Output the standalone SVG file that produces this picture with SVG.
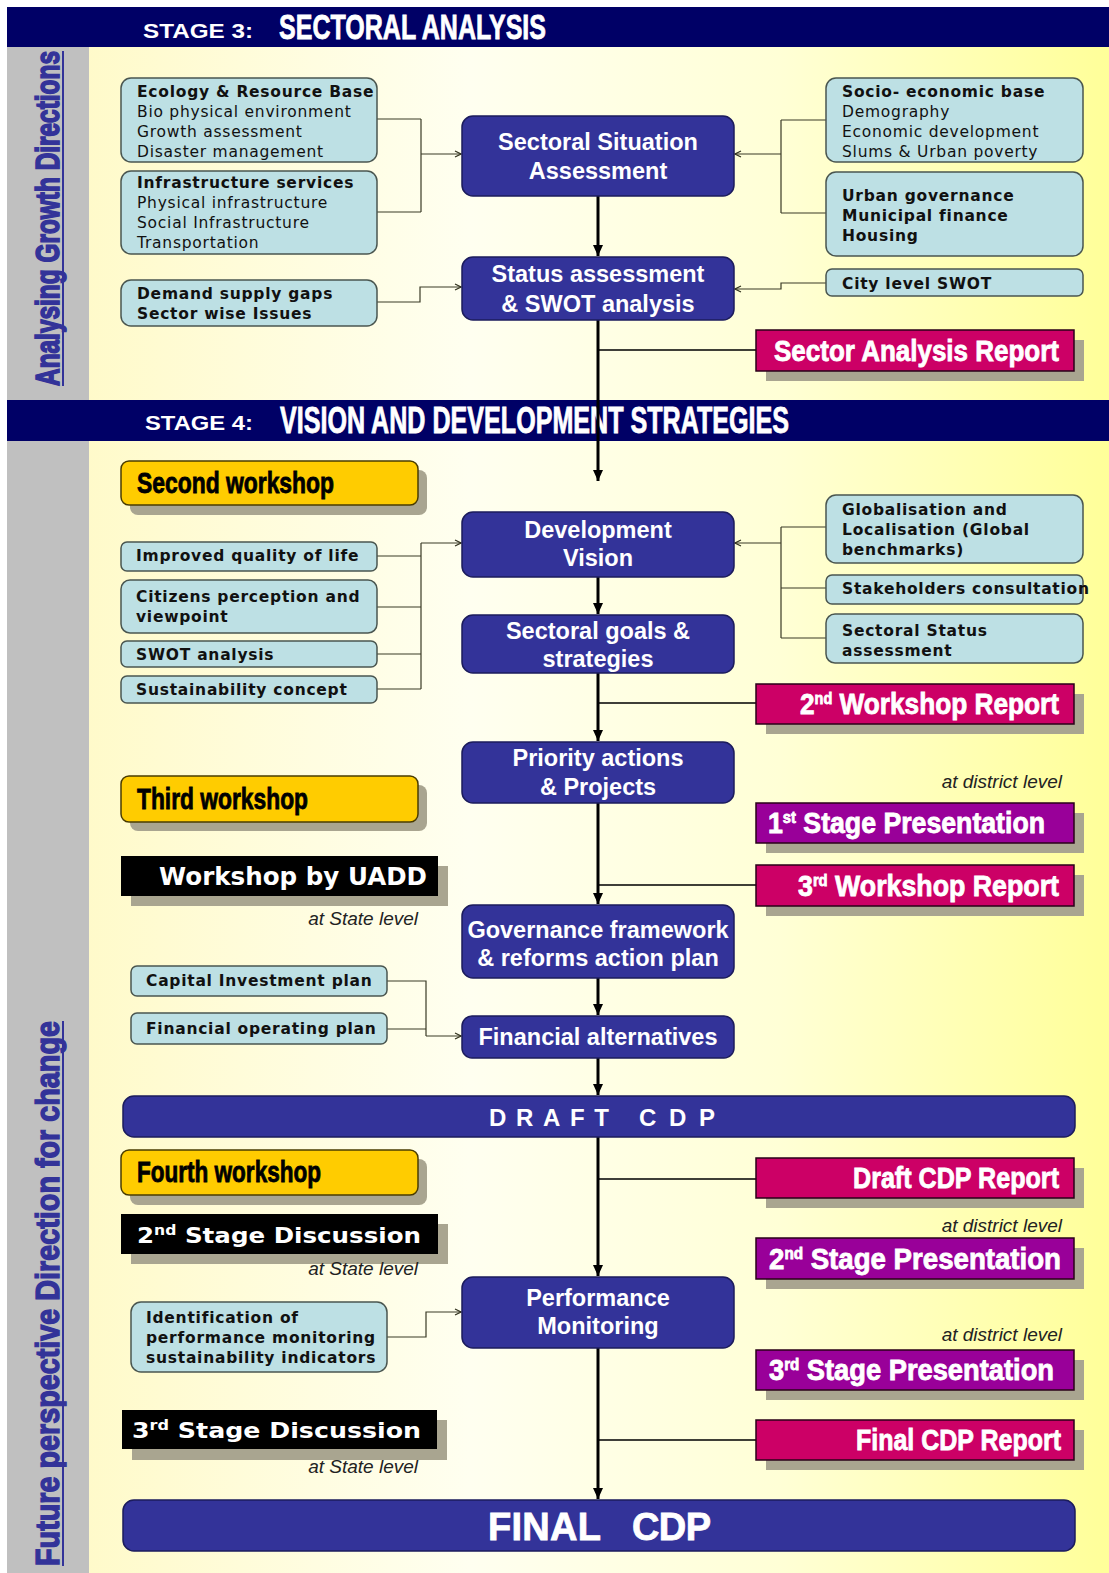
<svg xmlns="http://www.w3.org/2000/svg" width="1109" height="1573" viewBox="0 0 1109 1573">
<defs>
  <linearGradient id="bg" x1="0" y1="0" x2="1" y2="0">
    <stop offset="0" stop-color="#FFF9C2"/>
    <stop offset="0.42" stop-color="#FFFFF0"/>
    <stop offset="0.7" stop-color="#FFFFD6"/>
    <stop offset="1" stop-color="#FFFF99"/>
  </linearGradient>
  <marker id="thin" markerWidth="8" markerHeight="8" refX="7" refY="4" orient="auto" markerUnits="userSpaceOnUse">
    <path d="M1,1 L7,4 L1,7" fill="none" stroke="#33331f" stroke-width="1.2"/>
  </marker>
  <marker id="thick" markerWidth="12" markerHeight="12" refX="11" refY="5" orient="auto" markerUnits="userSpaceOnUse">
    <path d="M0,0 L11,5 L0,10 z" fill="#000"/>
  </marker>
</defs>
<style>
  .node rect{fill:#333399;stroke:#1c1c5c;stroke-width:1.5}
  .nt{font-family:"Liberation Sans",Arial,sans-serif;font-weight:bold;font-size:23.5px;fill:#fff;text-anchor:middle}
  .inp rect{fill:#BDE0E4;stroke:#4a5650;stroke-width:1.5}
  .it{font-family:"DejaVu Sans",Verdana,sans-serif;font-size:15.5px;letter-spacing:0.75px;fill:#111}
  .b{font-weight:bold}
  .rep rect.f{stroke:#2a0018;stroke-width:1.5}
  .sh{fill:#A9A590}
  .imp{font-family:"Liberation Sans",Arial,sans-serif;font-weight:bold}
  .hv{stroke-width:0.8px}
  .wk rect.f{fill:#FFCC00;stroke:#4a3c00;stroke-width:1.5}
  .blk rect.f{fill:#000}
  .vt{font-family:"DejaVu Sans",Verdana,sans-serif;font-weight:bold;fill:#fff}
  .lvl{font-family:"Liberation Sans",Arial,sans-serif;font-style:italic;font-size:19px;fill:#222;text-anchor:end}
  .hd rect{fill:#000066}
  .side{font-family:"Liberation Sans",Arial,sans-serif;font-weight:bold;fill:#333399;stroke:#333399;stroke-width:1.2px}
  .tl{fill:none;stroke:#3a3a26;stroke-width:1.2}
  .ta{fill:none;stroke:#3a3a26;stroke-width:1.2;marker-end:url(#thin)}
  .mk{fill:none;stroke:#000;stroke-width:3;marker-end:url(#thick)}
  .br{fill:none;stroke:#000;stroke-width:1.5}
</style>

<!-- background -->
<rect x="0" y="0" width="1109" height="1573" fill="#fff"/>
<rect x="7" y="7" width="1102" height="1566" fill="url(#bg)"/>
<rect x="7" y="47" width="82" height="1526" fill="#C0C0C0"/>

<g id="side-labels">
  <text class="side" font-size="24" transform="translate(59,386) rotate(-90) scale(1,1.37)" textLength="335" lengthAdjust="spacingAndGlyphs">Analysing Growth Directions</text>
  <line x1="63" y1="386" x2="63" y2="51" stroke="#333399" stroke-width="2"/>
  <text class="side" font-size="28.5" transform="translate(59,1566) rotate(-90) scale(1,1.16)" textLength="545" lengthAdjust="spacingAndGlyphs">Future perspective Direction for change</text>
  <line x1="63" y1="1566" x2="63" y2="1021" stroke="#333399" stroke-width="2"/>
</g>

<g id="stage3-header" class="hd">
  <rect x="7" y="7" width="1102" height="40"/>
  <text x="143" y="38" class="imp" font-size="20" fill="#fff" textLength="110" lengthAdjust="spacingAndGlyphs">STAGE 3:</text>
  <text x="279" y="39" class="imp hv" font-size="35" fill="#fff" stroke="#fff" textLength="267" lengthAdjust="spacingAndGlyphs">SECTORAL ANALYSIS</text>
</g>
<g id="stage4-header" class="hd">
  <rect x="7" y="400" width="1102" height="41"/>
  <text x="145" y="430" class="imp" font-size="20" fill="#fff" textLength="108" lengthAdjust="spacingAndGlyphs">STAGE 4:</text>
  <text x="280" y="433" class="imp hv" font-size="36" fill="#fff" stroke="#fff" textLength="509" lengthAdjust="spacingAndGlyphs">VISION AND DEVELOPMENT STRATEGIES</text>
</g>

<!-- connectors -->
<g id="connectors">
  <path class="tl" d="M377,119 H421 M377,212 H421 M421,119 V212"/>
  <path class="ta" d="M421,154 H461"/>
  <path class="tl" d="M826,120 H781 M826,213 H781 M781,120 V213"/>
  <path class="ta" d="M781,154 H735"/>
  <path class="ta" d="M377,302 H420 V287 H461"/>
  <path class="ta" d="M826,283 H781 V289 H735"/>
  <path class="tl" d="M377,556 H421 M377,607 H421 M377,654 H421 M377,689 H421 M421,543 V689"/>
  <path class="ta" d="M421,543 H461"/>
  <path class="tl" d="M826,527 H781 M826,588 H781 M826,638 H781 M781,527 V638"/>
  <path class="ta" d="M781,543 H735"/>
  <path class="tl" d="M387,981 H426 V1036 M387,1029 H426"/>
  <path class="ta" d="M426,1036 H461"/>
  <path class="ta" d="M387,1337 H426 V1312 H461"/>
  <path class="mk" d="M598,196 V256"/>
  <path class="mk" d="M598,320 V481"/>
  <path class="mk" d="M598,577 V614"/>
  <path class="mk" d="M598,673 V741"/>
  <path class="mk" d="M598,803 V904"/>
  <path class="mk" d="M598,978 V1015"/>
  <path class="mk" d="M598,1058 V1095"/>
  <path class="mk" d="M598,1137 V1276"/>
  <path class="mk" d="M598,1348 V1499"/>
  <path class="br" d="M598,350 H756 M598,703 H756 M598,885 H756 M598,1179 H756 M598,1440 H756"/>
</g>

<!-- main nodes -->
<g id="sectoral-situation" class="node"><rect x="462" y="116" width="272" height="80" rx="11"/>
  <text class="nt" x="598" y="150">Sectoral Situation</text><text class="nt" x="598" y="179">Assessment</text></g>
<g id="status-swot" class="node"><rect x="462" y="257" width="272" height="63" rx="11"/>
  <text class="nt" x="598" y="282">Status assessment</text><text class="nt" x="598" y="312">&amp; SWOT analysis</text></g>
<g id="development-vision" class="node"><rect x="462" y="512" width="272" height="65" rx="11"/>
  <text class="nt" x="598" y="538">Development</text><text class="nt" x="598" y="566">Vision</text></g>
<g id="sectoral-goals" class="node"><rect x="462" y="615" width="272" height="58" rx="11"/>
  <text class="nt" x="598" y="639">Sectoral goals &amp;</text><text class="nt" x="598" y="667">strategies</text></g>
<g id="priority-actions" class="node"><rect x="462" y="742" width="272" height="61" rx="11"/>
  <text class="nt" x="598" y="766">Priority actions</text><text class="nt" x="598" y="795">&amp; Projects</text></g>
<g id="governance" class="node"><rect x="462" y="905" width="272" height="73" rx="11"/>
  <text class="nt" x="598" y="938">Governance framework</text><text class="nt" x="598" y="966">&amp; reforms action plan</text></g>
<g id="financial-alternatives" class="node"><rect x="462" y="1016" width="272" height="42" rx="10"/>
  <text class="nt" x="598" y="1045">Financial alternatives</text></g>
<g id="draft-cdp" class="node"><rect x="123" y="1096" width="952" height="41" rx="11"/>
  <text class="imp" x="489" y="1126" font-size="24" fill="#fff" textLength="120" lengthAdjust="spacing">DRAFT</text>
  <text class="imp" x="639" y="1126" font-size="24" fill="#fff" textLength="76" lengthAdjust="spacing">CDP</text></g>
<g id="performance-monitoring" class="node"><rect x="462" y="1277" width="272" height="71" rx="11"/>
  <text class="nt" x="598" y="1306">Performance</text><text class="nt" x="598" y="1334">Monitoring</text></g>
<g id="final-cdp" class="node"><rect x="123" y="1500" width="952" height="51" rx="11"/>
  <text class="imp hv" x="488" y="1540" font-size="38" fill="#fff" stroke="#fff" textLength="113" lengthAdjust="spacing">FINAL</text>
  <text class="imp hv" x="632" y="1540" font-size="38" fill="#fff" stroke="#fff" textLength="79" lengthAdjust="spacing">CDP</text></g>

<!-- input boxes stage 3 -->
<g id="ecology" class="inp"><rect x="121" y="78" width="256" height="84" rx="10"/>
  <text class="it b" x="137" y="97">Ecology &amp; Resource Base</text>
  <text class="it" x="137" y="117">Bio physical environment</text>
  <text class="it" x="137" y="137">Growth assessment</text>
  <text class="it" x="137" y="157">Disaster management</text></g>
<g id="infrastructure" class="inp"><rect x="121" y="171" width="256" height="83" rx="10"/>
  <text class="it b" x="137" y="188">Infrastructure services</text>
  <text class="it" x="137" y="208">Physical infrastructure</text>
  <text class="it" x="137" y="228">Social Infrastructure</text>
  <text class="it" x="137" y="248">Transportation</text></g>
<g id="demand" class="inp"><rect x="121" y="280" width="256" height="46" rx="10"/>
  <text class="it b" x="137" y="299">Demand supply gaps</text>
  <text class="it b" x="137" y="319">Sector wise Issues</text></g>
<g id="socio" class="inp"><rect x="826" y="78" width="257" height="84" rx="10"/>
  <text class="it b" x="842" y="97">Socio- economic base</text>
  <text class="it" x="842" y="117">Demography</text>
  <text class="it" x="842" y="137">Economic development</text>
  <text class="it" x="842" y="157">Slums &amp; Urban poverty</text></g>
<g id="urban-governance" class="inp"><rect x="826" y="172" width="257" height="84" rx="10"/>
  <text class="it b" x="842" y="201">Urban governance</text>
  <text class="it b" x="842" y="221">Municipal finance</text>
  <text class="it b" x="842" y="241">Housing</text></g>
<g id="city-swot" class="inp"><rect x="826" y="269" width="257" height="27" rx="6"/>
  <text class="it b" x="842" y="289">City level SWOT</text></g>

<!-- input boxes stage 4 -->
<g id="quality-of-life" class="inp"><rect x="121" y="542" width="256" height="29" rx="6"/>
  <text class="it b" x="136" y="561">Improved quality of life</text></g>
<g id="citizens" class="inp"><rect x="121" y="580" width="256" height="53" rx="9"/>
  <text class="it b" x="136" y="602">Citizens perception and</text>
  <text class="it b" x="136" y="622">viewpoint</text></g>
<g id="swot-analysis" class="inp"><rect x="121" y="641" width="256" height="26" rx="6"/>
  <text class="it b" x="136" y="660">SWOT analysis</text></g>
<g id="sustainability" class="inp"><rect x="121" y="676" width="256" height="27" rx="6"/>
  <text class="it b" x="136" y="695">Sustainability concept</text></g>
<g id="globalisation" class="inp"><rect x="826" y="495" width="257" height="68" rx="10"/>
  <text class="it b" x="842" y="515">Globalisation and</text>
  <text class="it b" x="842" y="535">Localisation (Global</text>
  <text class="it b" x="842" y="555">benchmarks)</text></g>
<g id="stakeholders" class="inp"><rect x="826" y="575" width="257" height="29" rx="6"/>
  <text class="it b" x="842" y="594">Stakeholders consultation</text></g>
<g id="sectoral-status" class="inp"><rect x="826" y="614" width="257" height="49" rx="9"/>
  <text class="it b" x="842" y="636">Sectoral Status</text>
  <text class="it b" x="842" y="656">assessment</text></g>
<g id="capital-investment" class="inp"><rect x="131" y="966" width="256" height="30" rx="6"/>
  <text class="it b" x="146" y="986">Capital Investment plan</text></g>
<g id="financial-operating" class="inp"><rect x="131" y="1013" width="256" height="31" rx="6"/>
  <text class="it b" x="146" y="1034">Financial operating plan</text></g>
<g id="identification" class="inp"><rect x="131" y="1302" width="256" height="70" rx="10"/>
  <text class="it b" x="146" y="1323">Identification of</text>
  <text class="it b" x="146" y="1343">performance monitoring</text>
  <text class="it b" x="146" y="1363">sustainability indicators</text></g>

<!-- report boxes -->
<g id="sector-analysis-report" class="rep"><rect class="sh" x="766" y="340" width="318" height="41"/>
  <rect class="f" x="756" y="330" width="318" height="41" fill="#CC0066"/>
  <text class="imp hv" x="774" y="361" font-size="29" fill="#fff" stroke="#fff" textLength="285" lengthAdjust="spacingAndGlyphs">Sector Analysis Report</text></g>
<g id="workshop2-report" class="rep"><rect class="sh" x="766" y="694" width="318" height="40"/>
  <rect class="f" x="756" y="684" width="318" height="40" fill="#CC0066"/>
  <text class="imp hv" x="800" y="714" font-size="29" fill="#fff" stroke="#fff" textLength="259" lengthAdjust="spacingAndGlyphs">2<tspan font-size="16" dy="-10">nd</tspan><tspan dy="10"> Workshop Report</tspan></text></g>
<g id="stage1-presentation" class="rep"><rect class="sh" x="766" y="813" width="318" height="40"/>
  <rect class="f" x="756" y="803" width="318" height="40" fill="#990099"/>
  <text class="imp hv" x="768" y="833" font-size="29" fill="#fff" stroke="#fff" textLength="277" lengthAdjust="spacingAndGlyphs">1<tspan font-size="16" dy="-10">st</tspan><tspan dy="10"> Stage Presentation</tspan></text></g>
<g id="workshop3-report" class="rep"><rect class="sh" x="766" y="875" width="318" height="41"/>
  <rect class="f" x="756" y="865" width="318" height="41" fill="#CC0066"/>
  <text class="imp hv" x="798" y="896" font-size="29" fill="#fff" stroke="#fff" textLength="261" lengthAdjust="spacingAndGlyphs">3<tspan font-size="16" dy="-10">rd</tspan><tspan dy="10">  Workshop Report</tspan></text></g>
<g id="draft-cdp-report" class="rep"><rect class="sh" x="766" y="1168" width="318" height="40"/>
  <rect class="f" x="756" y="1158" width="318" height="40" fill="#CC0066"/>
  <text class="imp hv" x="853" y="1188" font-size="29" fill="#fff" stroke="#fff" textLength="206" lengthAdjust="spacingAndGlyphs">Draft CDP Report</text></g>
<g id="stage2-presentation" class="rep"><rect class="sh" x="766" y="1248" width="318" height="41"/>
  <rect class="f" x="756" y="1238" width="318" height="41" fill="#990099"/>
  <text class="imp hv" x="769" y="1269" font-size="29" fill="#fff" stroke="#fff" textLength="292" lengthAdjust="spacingAndGlyphs">2<tspan font-size="16" dy="-10">nd</tspan><tspan dy="10">  Stage Presentation</tspan></text></g>
<g id="stage3-presentation" class="rep"><rect class="sh" x="766" y="1360" width="318" height="40"/>
  <rect class="f" x="756" y="1350" width="318" height="40" fill="#990099"/>
  <text class="imp hv" x="769" y="1380" font-size="29" fill="#fff" stroke="#fff" textLength="285" lengthAdjust="spacingAndGlyphs">3<tspan font-size="16" dy="-10">rd</tspan><tspan dy="10"> Stage Presentation</tspan></text></g>
<g id="final-cdp-report" class="rep"><rect class="sh" x="766" y="1430" width="318" height="40"/>
  <rect class="f" x="756" y="1420" width="318" height="40" fill="#CC0066"/>
  <text class="imp hv" x="856" y="1450" font-size="29" fill="#fff" stroke="#fff" textLength="205" lengthAdjust="spacingAndGlyphs">Final CDP Report</text></g>

<!-- workshops -->
<g id="second-workshop" class="wk"><rect class="sh" x="130" y="470" width="297" height="45" rx="8"/>
  <rect class="f" x="121" y="461" width="297" height="44" rx="8"/>
  <text class="imp hv" x="137" y="493" font-size="29" fill="#000" stroke="#000" textLength="197" lengthAdjust="spacingAndGlyphs">Second workshop</text></g>
<g id="third-workshop" class="wk"><rect class="sh" x="130" y="785" width="297" height="46" rx="8"/>
  <rect class="f" x="121" y="776" width="297" height="46" rx="8"/>
  <text class="imp hv" x="137" y="809" font-size="29" fill="#000" stroke="#000" textLength="171" lengthAdjust="spacingAndGlyphs">Third workshop</text></g>
<g id="fourth-workshop" class="wk"><rect class="sh" x="130" y="1159" width="297" height="46" rx="8"/>
  <rect class="f" x="121" y="1150" width="297" height="45" rx="8"/>
  <text class="imp hv" x="137" y="1182" font-size="29" fill="#000" stroke="#000" textLength="184" lengthAdjust="spacingAndGlyphs">Fourth workshop</text></g>

<!-- black discussion boxes -->
<g id="workshop-uadd" class="blk"><rect class="sh" x="131" y="866" width="317" height="40"/>
  <rect class="f" x="121" y="856" width="317" height="40"/>
  <text class="vt" x="159" y="885" font-size="24" textLength="268" lengthAdjust="spacingAndGlyphs">Workshop by UADD</text></g>
<g id="stage2-discussion" class="blk"><rect class="sh" x="131" y="1224" width="317" height="40"/>
  <rect class="f" x="121" y="1214" width="317" height="40"/>
  <text class="vt" x="137" y="1243" font-size="22" textLength="284" lengthAdjust="spacingAndGlyphs">2<tspan font-size="14" dy="-8">nd</tspan><tspan dy="8"> Stage Discussion</tspan></text></g>
<g id="stage3-discussion" class="blk"><rect class="sh" x="132" y="1420" width="315" height="40"/>
  <rect class="f" x="122" y="1410" width="315" height="39"/>
  <text class="vt" x="132" y="1438" font-size="22" textLength="289" lengthAdjust="spacingAndGlyphs">3<tspan font-size="14" dy="-8">rd</tspan><tspan dy="8">  Stage Discussion</tspan></text></g>

<!-- level notes -->
<g id="level-notes">
  <text class="lvl" x="1062" y="788">at district level</text>
  <text class="lvl" x="1062" y="1232">at district level</text>
  <text class="lvl" x="1062" y="1341">at district level</text>
  <text class="lvl" x="418" y="925">at State level</text>
  <text class="lvl" x="418" y="1275">at State level</text>
  <text class="lvl" x="418" y="1473">at State level</text>
</g>
</svg>
